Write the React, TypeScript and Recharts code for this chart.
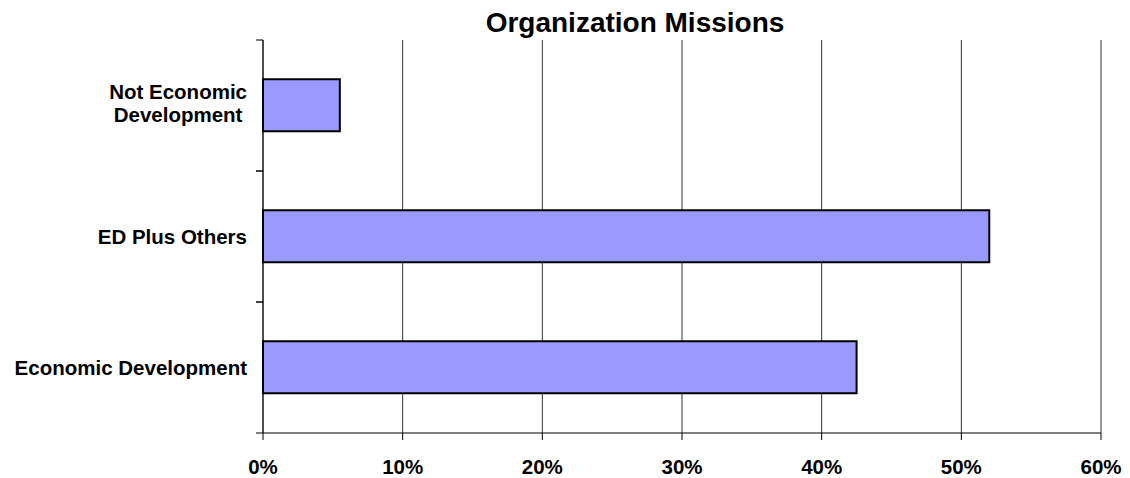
import React from 'react';
import { BarChart, Bar, XAxis, YAxis, CartesianGrid } from 'recharts';

const categories = ['Not Economic Development', 'ED Plus Others', 'Economic Development'];
const missionShares = [5.5, 52, 42.5];
const xTicks = [0, 10, 20, 30, 40, 50, 60];
const chartTitle = 'Organization Missions';

const data = categories.map((name, i) => ({ name, value: missionShares[i] }));

const FONT = "'Liberation Sans', Arial, Helvetica, sans-serif";
const LABEL_SIZE = 20.5;
const Y_TICK_MARGIN = 16;
const BOUNDARY_TICK = 7;

let ctx: CanvasRenderingContext2D | null = null;
function measure(text: string): number {
  if (!ctx) {
    const c = document.createElement('canvas');
    ctx = c.getContext('2d');
  }
  if (!ctx) return text.length * LABEL_SIZE * 0.55;
  ctx.font = `bold ${LABEL_SIZE}px ${FONT}`;
  return ctx.measureText(text).width;
}

const labelLines: Record<string, string[]> = {
  'Not Economic Development': ['Not Economic', 'Development'],
};

const CategoryTick = (props: any) => {
  const { x, y, payload } = props;
  const label: string = payload.value;
  const lines = labelLines[label] || [label];
  const half = typeof payload.offset === 'number' ? payload.offset : 0;
  const axisX = x + Y_TICK_MARGIN;
  const ticks = half > 0 ? (
    <g>
      <line x1={axisX - BOUNDARY_TICK} x2={axisX} y1={y - half} y2={y - half} stroke="#000" strokeWidth={1} />
      <line x1={axisX - BOUNDARY_TICK} x2={axisX} y1={y + half} y2={y + half} stroke="#000" strokeWidth={1} />
    </g>
  ) : null;
  if (lines.length === 1) {
    return (
      <g>
        {ticks}
        <text x={x} y={y} dy="0.355em" textAnchor="end" fontFamily={FONT} fontWeight="bold" fontSize={LABEL_SIZE} fill="#000">
          {label}
        </text>
      </g>
    );
  }
  const maxW = Math.max(...lines.map(measure));
  const cx = x - maxW / 2;
  const lh = 23;
  return (
    <g>
      {ticks}
      <text textAnchor="middle" fontFamily={FONT} fontWeight="bold" fontSize={LABEL_SIZE} fill="#000">
        {lines.map((l, i) => (
          <tspan key={i} x={cx} y={y - 2 + (i - (lines.length - 1) / 2) * lh} dy="0.355em">
            {l}
          </tspan>
        ))}
      </text>
    </g>
  );
};

export default function App() {
  return (
    <div style={{ position: 'relative', width: 1114, height: 470 }}>
      <div
        style={{
          position: 'absolute',
          left: 627,
          top: 1,
          transform: 'translateX(-50%)',
          fontFamily: FONT,
          fontWeight: 'bold',
          fontSize: 28,
          lineHeight: '28px',
          whiteSpace: 'nowrap',
          color: '#000',
        }}
      >
        {chartTitle}
      </div>
      <BarChart
        width={1114}
        height={470}
        data={data}
        layout="vertical"
        margin={{ top: 32, right: 21, bottom: 5, left: 10 }}
        barCategoryGap="30%"
      >
        <CartesianGrid horizontal={false} vertical={true} stroke="#333" strokeWidth={1} />
        <XAxis
          type="number"
          domain={[0, 60]}
          ticks={xTicks}
          interval={0}
          tickFormatter={(v: number) => `${v}%`}
          axisLine={{ stroke: '#000', strokeWidth: 1 }}
          tickLine={{ stroke: '#000', strokeWidth: 1 }}
          tickSize={7}
          tickMargin={19}
          height={40}
          tick={{ fontFamily: FONT, fontWeight: 'bold', fontSize: LABEL_SIZE, fill: '#000' }}
        />
        <YAxis
          type="category"
          dataKey="name"
          width={245}
          axisLine={{ stroke: '#000', strokeWidth: 1 }}
          tickLine={false}
          tickSize={0}
          tickMargin={Y_TICK_MARGIN}
          interval={0}
          tick={<CategoryTick />}
        />
        <Bar
          dataKey="value"
          fill="#9999FF"
          stroke="#000"
          strokeWidth={2}
          isAnimationActive={false}
        />
      </BarChart>
    </div>
  );
}
